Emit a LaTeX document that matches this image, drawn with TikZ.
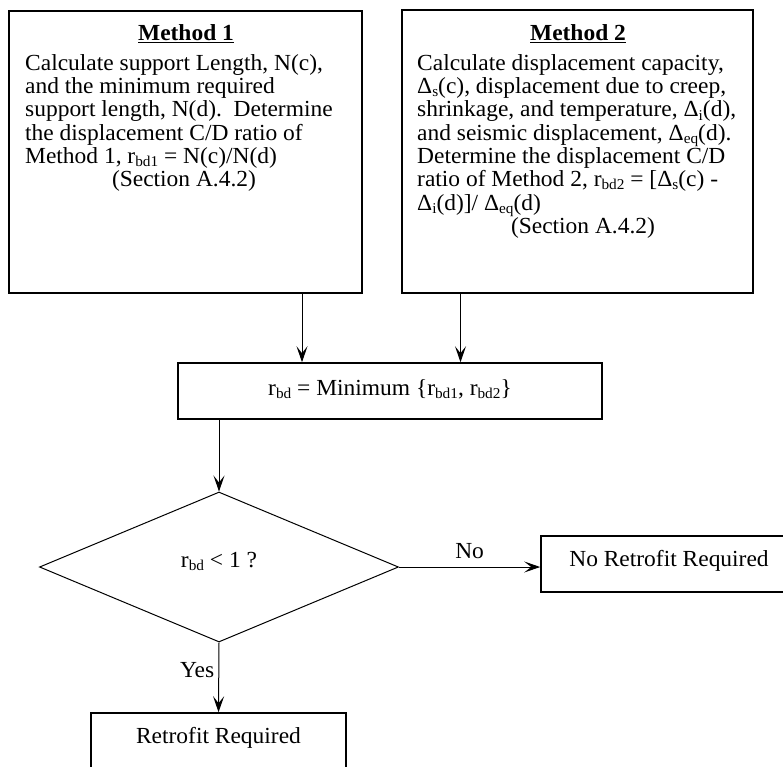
\documentclass[tikz,border=0pt]{standalone}
\usepackage{fontspec}
\setmainfont{Liberation Serif}[FakeStretch=1.02]
\usetikzlibrary{shapes.geometric,arrows.meta}

% lowered, smaller index text (r_bd, Delta_eq, ...)
\newcommand\sbs[1]{\raisebox{-0.14em}{\fontsize{15}{15}\selectfont #1}}

\begin{document}
\begin{tikzpicture}[x=1pt,y=-1pt,
  box/.style={draw, line width=1.6pt, rectangle, inner sep=0pt},
  body/.style={anchor=north west, inner sep=0pt, align=left,
               font=\fontsize{23}{23.3}\selectfont},
  txt/.style={inner sep=0pt, font=\fontsize{23}{23.3}\selectfont},
  secline/.style={txt, anchor=base, text height=14pt, text depth=3pt},
  onerow/.style={text height=15pt, text depth=11pt},
  link/.style={line width=1pt, -{Stealth[length=16pt,width=11pt,inset=7pt]}},
]
\useasboundingbox (0,0) rectangle (783,766);

% ---- the two methods ----
\node[box, minimum width=353pt, minimum height=282pt] (m1) at (185.5,152) {};
\node[txt, anchor=base] (m1title) at (186,40.5) {\underline{\textbf{Method 1}}};
\node[body] (m1body) at (25,54) {\rule{0pt}{16pt}Calculate support Length, N(c),\\
and the minimum required\\
support length, N(d).\ \ Determine\\
the displacement C/D ratio of\\
Method 1, r\sbs{bd1} = N(c)/N(d)};
\node[secline] (m1sec) at (184,186.5) {(Section A.4.2)};

\node[box, minimum width=351pt, minimum height=283pt] (m2) at (577.5,151.5) {};
\node[txt, anchor=base] (m2title) at (578,40.5) {\underline{\textbf{Method 2}}};
\node[body] (m2body) at (417,54) {\rule{0pt}{16pt}Calculate displacement capacity,\\
Δ\sbs{s}(c), displacement due to creep,\\
shrinkage, and temperature, Δ\sbs{i}(d),\\
and seismic displacement, Δ\sbs{eq}(d).\\
Determine the displacement C/D\\
ratio of Method 2, r\sbs{bd2} = [Δ\sbs{s}(c) -\\
Δ\sbs{i}(d)]/ Δ\sbs{eq}(d)};
\node[secline] (m2sec) at (583,233.1) {(Section A.4.2)};

% ---- combination and check ----
\node[box, txt, text height=15pt, text depth=6pt, minimum width=424pt, minimum height=56pt] (mid) at (390,391)
  {r\sbs{bd} = Minimum \{r\sbs{bd1}, r\sbs{bd2}\}};

\node[diamond, draw, line width=1pt, txt, text height=15pt, text depth=15pt,
      minimum width=359pt, minimum height=150pt] (dec) at (219,567)
  {r\sbs{bd} < 1 ?};

\node[box, txt, onerow, minimum width=256pt, minimum height=56pt] (nob) at (669,564)
  {No Retrofit Required};
\node[box, txt, onerow, minimum width=255pt, minimum height=56pt] (ret) at (218.5,741)
  {Retrofit Required};

% ---- connectors ----
\coordinate (a1) at (302,0);
\coordinate (a2) at (460.5,0);
\draw[link] (m1.south -| a1) -- (mid.north -| a1);
\draw[link] (m2.south -| a2) -- (mid.north -| a2);
\draw[link] (mid.south -| dec.north) -- (dec.north);
\draw[link] (dec.east) -- node[txt, midway, above=8pt] (nolab) {No} (dec.east -| nob.west);
\draw[link] (dec.south) -- node[txt, midway, anchor=base east, xshift=-4pt] (yeslab) {Yes} (ret.north);
\end{tikzpicture}
\end{document}
